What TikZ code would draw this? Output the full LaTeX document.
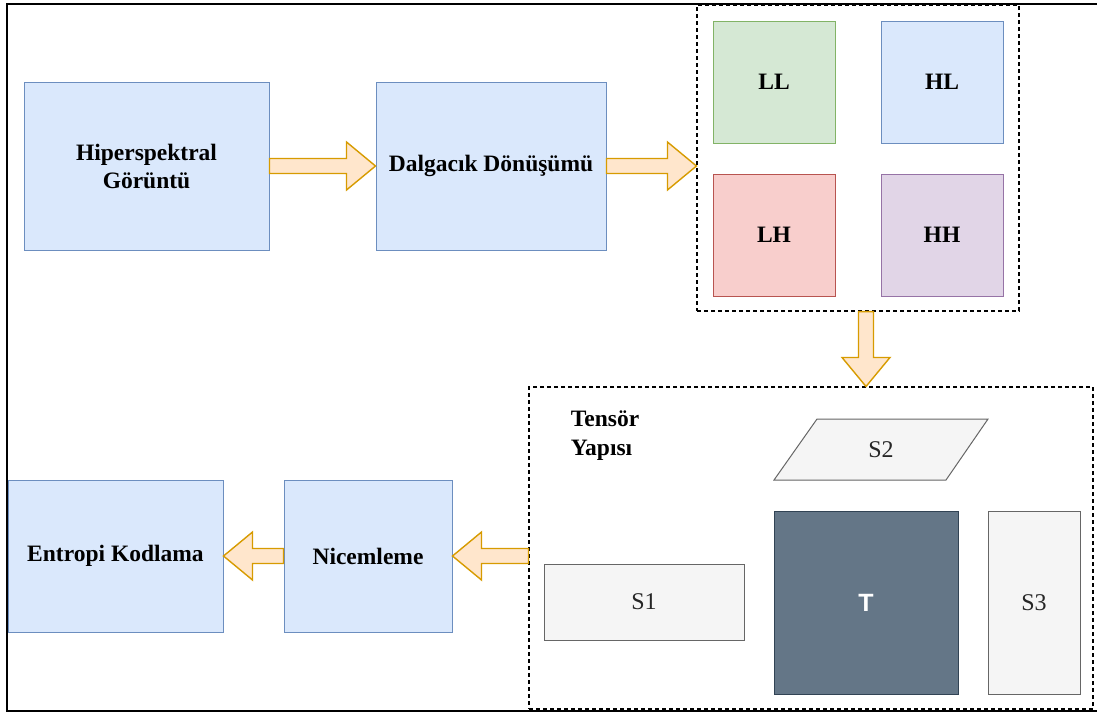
\documentclass[tikz,border=0pt]{standalone}
\usepackage{fontspec}
\setmainfont{Liberation Serif}
\setsansfont{Liberation Sans}
\usetikzlibrary{positioning, calc, shapes.geometric}
\definecolor{boxblue}{HTML}{DAE8FC}
\definecolor{lineblue}{HTML}{6C8EBF}
\definecolor{boxgreen}{HTML}{D5E8D4}
\definecolor{linegreen}{HTML}{82B366}
\definecolor{boxred}{HTML}{F8CECC}
\definecolor{linered}{HTML}{B85450}
\definecolor{boxpurple}{HTML}{E1D5E7}
\definecolor{linepurple}{HTML}{9673A6}
\definecolor{arrfill}{HTML}{FFE6CC}
\definecolor{arrline}{HTML}{D79B00}
\definecolor{boxgrey}{HTML}{F5F5F5}
\definecolor{linegrey}{HTML}{666666}
\definecolor{tensfill}{HTML}{647687}
\definecolor{tensline}{HTML}{314354}
\tikzset{
    stage/.style={rectangle, draw=lineblue, fill=boxblue, line width=1pt, align=center, font=\fontsize{23.5}{28}\selectfont\bfseries},
    subband/.style={rectangle, draw=#1, line width=1pt, minimum width=122, minimum height=122, font=\fontsize{23.5}{28}\selectfont\bfseries},
    group/.style={rectangle, draw=black, dashed, dash pattern=on 4pt off 3pt, line width=1.1pt},
    slice/.style={draw=linegrey, fill=boxgrey, line width=1pt, text=black!85, font=\fontsize{24}{28}\selectfont},
    blockarr/.style={draw=arrline, fill=arrfill, line width=1.4pt, line join=miter}
}
% block arrow between two named points
\newcommand{\blockarrow}[2]{%
    \coordinate (ba-h) at ($(#2)!29pt!(#1)$);
    \draw[blockarr] ($(#1)!7.5pt!90:(#2)$) -- ($(ba-h)!7.5pt!90:(#2)$) -- ($(ba-h)!24pt!90:(#2)$)
        -- (#2) -- ($(ba-h)!24pt!-90:(#2)$) -- ($(ba-h)!7.5pt!-90:(#2)$) -- ($(#1)!7.5pt!-90:(#2)$) -- cycle;
}
\begin{document}
\begin{tikzpicture}[x=1pt, y=-1pt]
    \useasboundingbox (0,0) rectangle (1097,713);
    % Outer frame
    \draw[line width=2pt] (1110,4) -- (7,4) -- (7,711) -- (1110,711);

    % Top row
    \node[stage, minimum width=245, minimum height=168] (hsi) at (146.5,166) {Hiperspektral\\Görüntü};
    \node[stage, minimum width=230, minimum height=168] (dwt) at (491,166) {Dalgacık Dönüşümü};

    % Subbands
    \node[group, minimum width=322, minimum height=306] (sub) at (858,158) {};
    \node[subband=linegreen, fill=boxgreen] (ll) at (774,82) {LL};
    \node[subband=lineblue, fill=boxblue] (hl) at (942,82) {HL};
    \node[subband=linered, fill=boxred] (lh) at (774,235) {LH};
    \node[subband=linepurple, fill=boxpurple] (hh) at (942,235) {HH};

    % Tensor structure
    \node[group, minimum width=564, minimum height=322] (tens) at (811,548) {};
    \node[align=left, font=\fontsize{23.5}{29}\selectfont\bfseries] (tlabel) at (605,436) {Tensör\\ Yapısı};
    \draw[slice] (774,480) -- (817,419) -- (988,419) -- (946,480) -- cycle;
    \node[font=\fontsize{24}{28}\selectfont, text=black!85] (s2) at (881,450) {S2};
    \node[rectangle, draw=tensline, fill=tensfill, line width=1pt, minimum width=184, minimum height=183,
          text=white, font=\fontsize{25}{28}\selectfont\sffamily\bfseries] (t) at (866,602.5) {T};
    \node[slice, rectangle, minimum width=92, minimum height=183] (s3) at (1034,602.5) {S3};
    \node[slice, rectangle, minimum width=200, minimum height=76] (s1) at (644,602) {S1};

    % Bottom row
    \node[stage, minimum width=168, minimum height=152] (nic) at (368,556) {Nicemleme};
    \node[stage, minimum width=215, minimum height=152] (ent) at (115.5,556) {Entropi Kodlama};

    % Arrows
    \coordinate (dwt-out) at (dwt.east -| sub.west);
    \coordinate (sub-out) at ($(sub.south)+(8,0)$);
    \coordinate (tens-in) at (sub-out |- tens.north);
    \coordinate (tens-out) at (nic.east -| tens.west);
    \blockarrow{hsi.east}{dwt.west}
    \blockarrow{dwt.east}{dwt-out}
    \blockarrow{sub-out}{tens-in}
    \blockarrow{tens-out}{nic.east}
    \blockarrow{nic.west}{ent.east}
\end{tikzpicture}
\end{document}
